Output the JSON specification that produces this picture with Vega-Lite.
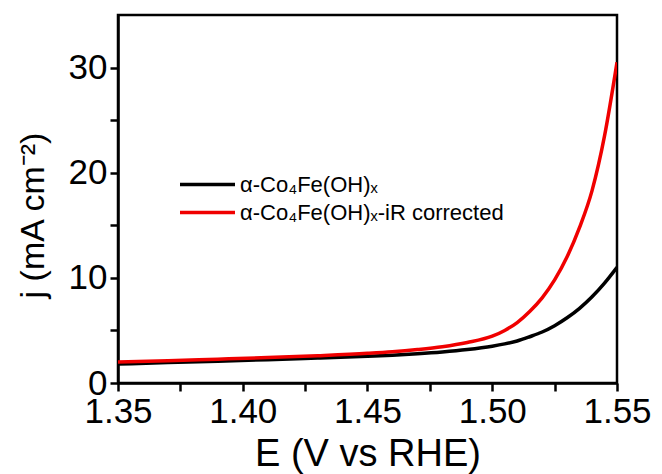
{
  "$schema": "https://vega.github.io/schema/vega-lite/v6.json",
  "width": 499,
  "height": 368,
  "autosize": {"type": "none"},
  "padding": {"left": 118, "top": 15, "right": 45, "bottom": 91},
  "background": "white",
  "config": {
    "view": {"stroke": "black", "strokeWidth": 2.5},
    "font": "Liberation Sans"
  },
  "data": {
    "values": [
      {"series": "α-Co₄Fe(OH)ₓ", "E": 1.35, "j": 1.8},
      {"series": "α-Co₄Fe(OH)ₓ", "E": 1.37, "j": 1.95},
      {"series": "α-Co₄Fe(OH)ₓ", "E": 1.39, "j": 2.08},
      {"series": "α-Co₄Fe(OH)ₓ", "E": 1.41, "j": 2.22},
      {"series": "α-Co₄Fe(OH)ₓ", "E": 1.43, "j": 2.38},
      {"series": "α-Co₄Fe(OH)ₓ", "E": 1.45, "j": 2.55},
      {"series": "α-Co₄Fe(OH)ₓ", "E": 1.46, "j": 2.65},
      {"series": "α-Co₄Fe(OH)ₓ", "E": 1.47, "j": 2.78},
      {"series": "α-Co₄Fe(OH)ₓ", "E": 1.48, "j": 2.95},
      {"series": "α-Co₄Fe(OH)ₓ", "E": 1.49, "j": 3.18},
      {"series": "α-Co₄Fe(OH)ₓ", "E": 1.5, "j": 3.5},
      {"series": "α-Co₄Fe(OH)ₓ", "E": 1.505, "j": 3.72},
      {"series": "α-Co₄Fe(OH)ₓ", "E": 1.51, "j": 4.0},
      {"series": "α-Co₄Fe(OH)ₓ", "E": 1.515, "j": 4.4},
      {"series": "α-Co₄Fe(OH)ₓ", "E": 1.52, "j": 4.85},
      {"series": "α-Co₄Fe(OH)ₓ", "E": 1.525, "j": 5.45},
      {"series": "α-Co₄Fe(OH)ₓ", "E": 1.53, "j": 6.2},
      {"series": "α-Co₄Fe(OH)ₓ", "E": 1.535, "j": 7.1},
      {"series": "α-Co₄Fe(OH)ₓ", "E": 1.54, "j": 8.2},
      {"series": "α-Co₄Fe(OH)ₓ", "E": 1.545, "j": 9.5},
      {"series": "α-Co₄Fe(OH)ₓ", "E": 1.55, "j": 11.0},
      {"series": "α-Co₄Fe(OH)ₓ-iR corrected", "E": 1.35, "j": 2.0},
      {"series": "α-Co₄Fe(OH)ₓ-iR corrected", "E": 1.37, "j": 2.12},
      {"series": "α-Co₄Fe(OH)ₓ-iR corrected", "E": 1.39, "j": 2.27},
      {"series": "α-Co₄Fe(OH)ₓ-iR corrected", "E": 1.41, "j": 2.42},
      {"series": "α-Co₄Fe(OH)ₓ-iR corrected", "E": 1.43, "j": 2.6},
      {"series": "α-Co₄Fe(OH)ₓ-iR corrected", "E": 1.45, "j": 2.82},
      {"series": "α-Co₄Fe(OH)ₓ-iR corrected", "E": 1.46, "j": 2.97},
      {"series": "α-Co₄Fe(OH)ₓ-iR corrected", "E": 1.47, "j": 3.18},
      {"series": "α-Co₄Fe(OH)ₓ-iR corrected", "E": 1.48, "j": 3.45},
      {"series": "α-Co₄Fe(OH)ₓ-iR corrected", "E": 1.49, "j": 3.85},
      {"series": "α-Co₄Fe(OH)ₓ-iR corrected", "E": 1.5, "j": 4.45},
      {"series": "α-Co₄Fe(OH)ₓ-iR corrected", "E": 1.505, "j": 5.0},
      {"series": "α-Co₄Fe(OH)ₓ-iR corrected", "E": 1.51, "j": 5.75},
      {"series": "α-Co₄Fe(OH)ₓ-iR corrected", "E": 1.515, "j": 6.8},
      {"series": "α-Co₄Fe(OH)ₓ-iR corrected", "E": 1.52, "j": 8.1},
      {"series": "α-Co₄Fe(OH)ₓ-iR corrected", "E": 1.525, "j": 9.8},
      {"series": "α-Co₄Fe(OH)ₓ-iR corrected", "E": 1.53, "j": 12.0},
      {"series": "α-Co₄Fe(OH)ₓ-iR corrected", "E": 1.535, "j": 14.8},
      {"series": "α-Co₄Fe(OH)ₓ-iR corrected", "E": 1.54, "j": 18.3},
      {"series": "α-Co₄Fe(OH)ₓ-iR corrected", "E": 1.545, "j": 23.5},
      {"series": "α-Co₄Fe(OH)ₓ-iR corrected", "E": 1.55, "j": 30.5}
    ]
  },
  "mark": {"type": "line", "strokeWidth": 3.5, "interpolate": "monotone", "clip": true},
  "encoding": {
    "x": {
      "field": "E",
      "type": "quantitative",
      "scale": {"domain": [1.35, 1.55], "nice": false, "zero": false},
      "axis": {
        "title": "E (V vs RHE)",
        "values": [1.35, 1.375, 1.4, 1.425, 1.45, 1.475, 1.5, 1.525, 1.55],
        "labelExpr": "round(datum.value*1000) % 50 == 0 ? format(datum.value, '.2f') : ''",
        "grid": false,
        "domainColor": "black",
        "domainWidth": 2.5,
        "tickColor": "black",
        "tickWidth": 2.5,
        "tickSize": 8,
        "labelFontSize": 35,
        "labelColor": "black",
        "labelPadding": 3,
        "labelFlush": false,
        "labelOverlap": false,
        "titleFontSize": 38,
        "titleFontWeight": "normal",
        "titleColor": "black",
        "titleBaseline": "top",
        "titleY": 52
      }
    },
    "y": {
      "field": "j",
      "type": "quantitative",
      "scale": {"domain": [0, 35], "nice": false},
      "axis": {
        "title": "j (mA cm⁻²)",
        "values": [0, 5, 10, 15, 20, 25, 30],
        "labelExpr": "datum.value % 10 == 0 ? datum.label : ''",
        "grid": false,
        "domainColor": "black",
        "domainWidth": 2.5,
        "tickColor": "black",
        "tickWidth": 2.5,
        "tickSize": 8,
        "labelFontSize": 35,
        "labelColor": "black",
        "labelPadding": 3,
        "labelFlush": false,
        "labelOverlap": false,
        "titleFontSize": 34,
        "titleFontWeight": "normal",
        "titleColor": "black",
        "titleX": -68,
        "titleY": 200
      }
    },
    "color": {
      "field": "series",
      "type": "nominal",
      "scale": {
        "domain": ["α-Co₄Fe(OH)ₓ", "α-Co₄Fe(OH)ₓ-iR corrected"],
        "range": ["#000000", "#f00000"]
      },
      "legend": {
        "title": null,
        "orient": "none",
        "legendX": 60,
        "legendY": 158,
        "symbolType": "stroke",
        "symbolStrokeWidth": 3.5,
        "symbolSize": 3025,
        "clipHeight": 23,
        "rowPadding": 5,
        "labelFontSize": 22,
        "labelColor": "black",
        "labelOffset": 3,
        "labelLimit": 400,
        "padding": 0
      }
    }
  }
}
